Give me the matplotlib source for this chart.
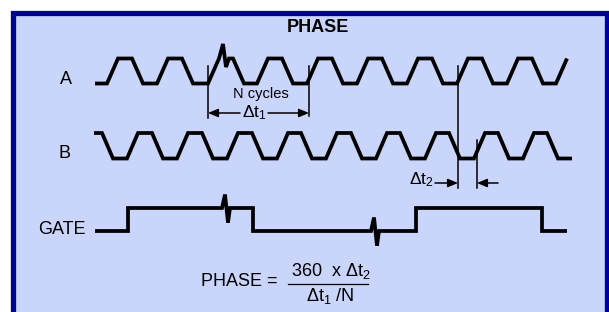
import matplotlib
matplotlib.use("Agg")
import matplotlib.pyplot as plt
from matplotlib.patches import Rectangle

plt.rcParams['font.family'] = ['Liberation Sans', 'DejaVu Sans']
plt.rcParams['mathtext.fontset'] = 'custom'
plt.rcParams['mathtext.rm'] = 'Liberation Sans'
plt.rcParams['mathtext.it'] = 'Liberation Sans'
plt.rcParams['mathtext.bf'] = 'Liberation Sans:bold'

# ---------------- data (pixel units) ----------------
A_rise_starts = [107, 157, 208, 257, 307, 357, 407, 457, 507, 556]
A_levels = [83.5, 58.5]            # low, high
A_range = [95, 568]
A_glitch_x = 223

B_fall_starts = [102, 152, 202, 252, 301, 351, 400, 449, 498, 547]
B_levels = [158.5, 133]            # low, high
B_range = [94, 572]

gate_edges = [128, 253, 416, 542]
gate_levels = [231, 208]           # low, high
gate_range = [95, 567]
gate_glitch_x = [225, 374]

edge_rise = 11
edge_top = 14

marker_lines_x = [208, 309, 458, 477]
marker_lines_y = [(66, 118), (66, 116), (66, 188), (140, 188)]

labels = ["A", "B", "GATE"]
title = "PHASE"

BG = "#C9D5FA"
FRAME = "#00009A"

# ---------------- figure ----------------
W, H = 609, 312
fig = plt.figure(figsize=(W / 100, H / 100), dpi=100)
ax = fig.add_axes([0, 0, 1, 1])
ax.set_xlim(0, W)
ax.set_ylim(H, 0)
ax.axis('off')

ax.add_patch(Rectangle((12.5, 12.5), 594, 320, facecolor=BG, edgecolor=FRAME,
                       lw=3.8, zorder=0))

LW = 2.7


def wave_A():
    lo, hi = A_levels
    xs, ys = [A_range[0]], [lo]
    n = len(A_rise_starts)
    for i, r in enumerate(A_rise_starts):
        xs += [r, r + edge_rise]
        ys += [lo, hi]
        if i == n - 1:
            break
        if r < A_glitch_x < r + edge_rise + edge_top:
            g = A_glitch_x
            xs += [g, g + 3, g + 6]
            ys += [hi - 14.5, hi + 8.5, hi]
        xs += [r + edge_rise + edge_top, r + 2 * edge_rise + edge_top]
        ys += [hi, lo]
    return xs, ys


def wave_B():
    lo, hi = B_levels
    xs, ys = [B_range[0]], [hi]
    n = len(B_fall_starts)
    for i, f in enumerate(B_fall_starts):
        xs += [f, f + edge_rise]
        ys += [hi, lo]
        if i == n - 1:
            xs += [B_range[1]]
            ys += [lo]
            break
        xs += [f + edge_rise + edge_top, f + 2 * edge_rise + edge_top]
        ys += [lo, hi]
    return xs, ys


def wave_gate():
    lo, hi = gate_levels
    xs, ys = [gate_range[0]], [lo]
    level = lo
    bounds = [gate_range[0]] + gate_edges + [gate_range[1]]
    for k in range(len(bounds) - 1):
        a, b = bounds[k], bounds[k + 1]
        for g in gate_glitch_x:
            if a < g < b:
                xs += [g - 3, g, g + 3, g + 5]
                ys += [level, level - 13.5, level + 14.5, level]
        xs.append(b)
        ys.append(level)
        if k < len(bounds) - 2:
            level = hi if level == lo else lo
            xs.append(b)
            ys.append(level)
    return xs, ys


for fn in (wave_A, wave_B, wave_gate):
    x, y = fn()
    ax.plot(x, y, color='black', lw=LW, solid_joinstyle='miter',
            solid_capstyle='butt', zorder=3)

# marker lines
for x, (y0, y1) in zip(marker_lines_x, marker_lines_y):
    ax.plot([x, x], [y0, y1], color='black', lw=1.1, zorder=2)

astyle = '-|>,head_length=0.6,head_width=0.25'


def arrow(x_from, x_to, y):
    ax.annotate('', xy=(x_to, y), xytext=(x_from, y),
                arrowprops=dict(arrowstyle=astyle, color='black', lw=1.1,
                                mutation_scale=10, shrinkA=0, shrinkB=0))


arrow(240, 208, 113)
arrow(268, 309, 113)
arrow(435, 458, 183)
arrow(498, 477, 183)

# texts
ax.text(318, 27, title, ha='center', va='center', fontsize=13,
        fontweight='bold')
ax.text(66, 79, labels[0], ha='center', va='center', fontsize=13)
ax.text(65, 153.5, labels[1], ha='center', va='center', fontsize=13)
ax.text(62, 229, labels[2], ha='center', va='center', fontsize=13)

ax.text(261, 94, "N cycles", ha='center', va='center', fontsize=10.5)
ax.text(254, 113, "Δt$_1$", ha='center', va='center', fontsize=12.5)
ax.text(421, 180, "Δt$_2$", ha='center', va='center', fontsize=12.5)

ax.text(239, 281, "PHASE =", ha='center', va='center', fontsize=13)
ax.text(331, 271, "360  x Δt$_2$", ha='center', va='center', fontsize=13)
ax.plot([288, 368], [284, 284], color='black', lw=0.9)
ax.text(330, 296, "Δt$_1$ /N", ha='center', va='center', fontsize=13)

fig.savefig("out.png", dpi=100, facecolor='white')
